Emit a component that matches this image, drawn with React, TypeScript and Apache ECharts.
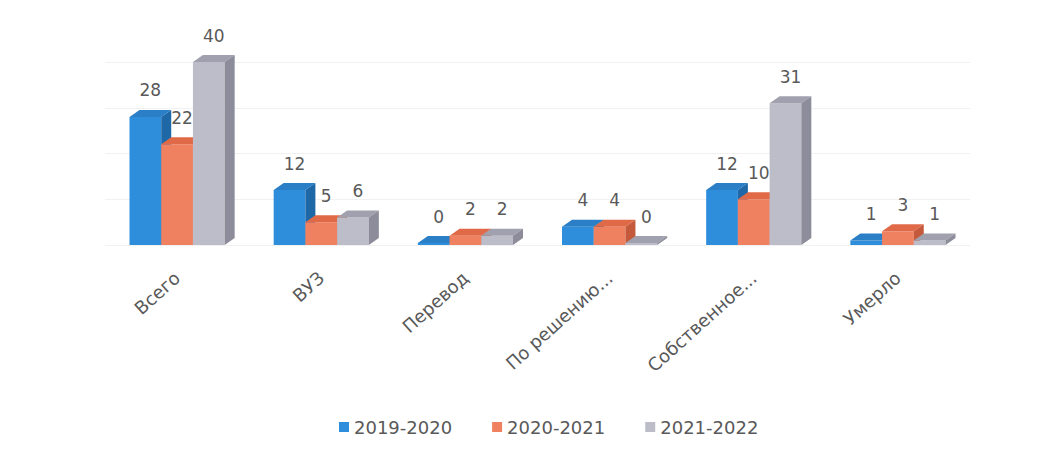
import React, { useEffect, useRef } from "react";
import * as echarts from "echarts";

const categories = ["Всего", "ВУЗ", "Перевод", "По решению...", "Собственное...", "Умерло"];
const seriesNames = ["2019-2020", "2020-2021", "2021-2022"];
const values2019 = [28, 12, 0, 4, 12, 1];
const values2020 = [22, 5, 2, 4, 10, 3];
const values2021 = [40, 6, 2, 0, 31, 1];
const yTicks = [0, 10, 20, 30, 40];

const palettes = [
  { front: "#2f8edc", top: "#2a7fc6", side: "#1f68a8" },
  { front: "#f08160", top: "#e06a48", side: "#c45a3b" },
  { front: "#bdbdc9", top: "#a0a0ae", side: "#8c8c9a" },
];

const FONT = "DejaVu Sans";

export default function App() {
  const ref = useRef<HTMLDivElement>(null);
  useEffect(() => {
    if (!ref.current) return;
    const chart = echarts.init(ref.current, undefined, { renderer: "svg" });
    const all = [values2019, values2020, values2021];
    const dx = 10;
    const dy = 7;
    const series = all.map((vals, si) => ({
      type: "custom",
      name: seriesNames[si],
      itemStyle: { color: palettes[si].front },
      data: vals.map((v, i) => [i, v]),
      encode: { x: 0, y: 1 },
      renderItem: (params: any, api: any) => {
        const cat = api.value(0);
        const v = api.value(1);
        const c = api.coord([cat, v]);
        const base = api.coord([cat, 0]);
        const band = api.size([1, 0])[0];
        const w = band * 0.22;
        const x0 = base[0] - 1.5 * w + si * w;
        const yb = base[1];
        const yTop = Math.min(c[1], yb - 2);
        const p = palettes[si];
        return {
          type: "group",
          children: [
            {
              type: "rect",
              shape: { x: x0, y: yTop, width: w, height: yb - yTop },
              style: { fill: p.front },
            },
            {
              type: "polygon",
              shape: {
                points: [
                  [x0, yTop],
                  [x0 + dx, yTop - dy],
                  [x0 + w + dx, yTop - dy],
                  [x0 + w, yTop],
                ],
              },
              style: { fill: p.top },
            },
            {
              type: "polygon",
              shape: {
                points: [
                  [x0 + w, yTop],
                  [x0 + w + dx, yTop - dy],
                  [x0 + w + dx, yb - dy],
                  [x0 + w, yb],
                ],
              },
              style: { fill: p.side },
            },
            {
              type: "text",
              style: {
                text: String(v),
                x: x0 + w / 2 + dx / 2,
                y: yTop - dy - 11,
                align: "center",
                verticalAlign: "bottom",
                fill: "#595959",
                font: `17px "${FONT}"`,
              },
            },
          ],
        };
      },
    }));

    chart.setOption({
      animation: false,
      backgroundColor: "#ffffff",
      grid: { left: 105, right: 94, top: 62, bottom: 214 },
      xAxis: {
        type: "category",
        data: categories,
        axisLine: { show: false },
        axisTick: { show: false },
        axisLabel: {
          rotate: 42,
          margin: 30,
          color: "#595959",
          fontSize: 18,
          fontFamily: FONT,
          interval: 0,
        },
      },
      yAxis: {
        type: "value",
        min: yTicks[0],
        max: yTicks[yTicks.length - 1],
        interval: 10,
        axisLabel: { show: false },
        axisLine: { show: false },
        axisTick: { show: false },
        splitLine: { lineStyle: { color: "#f1f1f1" } },
      },
      legend: {
        data: seriesNames,
        top: 413,
        left: 334,
        icon: "rect",
        itemWidth: 10,
        itemHeight: 10,
        itemGap: 40,
        textStyle: { color: "#595959", fontSize: 18, fontFamily: FONT },
      },
      series,
    });
    return () => chart.dispose();
  }, []);
  return (
    <div
      ref={ref}
      style={{ position: "absolute", left: 0, top: 0, width: 1064, height: 459 }}
    />
  );
}
